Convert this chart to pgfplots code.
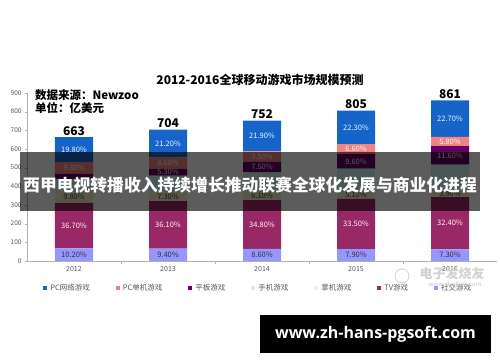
\documentclass[border=0pt]{standalone}
\usepackage{pgfplots}
\pgfplotsset{compat=1.18}
\usepackage{fontspec}
\setmainfont{Noto Sans CJK SC}
\newfontfamily\urlfont{Open Sans}
\definecolor{pcnet}{RGB}{22,100,200}
\definecolor{pcsingle}{RGB}{242,130,130}
\definecolor{tablet}{RGB}{100,0,100}
\definecolor{phone}{RGB}{205,240,240}
\definecolor{handheld}{RGB}{245,240,200}
\definecolor{tvgame}{RGB}{153,40,102}
\definecolor{social}{RGB}{150,150,255}
\definecolor{txtgray}{RGB}{89,89,89}
\pgfplotsset{
  frame/.style={at={(27pt,101pt)}, anchor=south west,
    scale only axis, width=470pt, height=168pt,
    ymin=0, ymax=900, xmin=-0.5, xmax=4.5},
  lbl/.style={only marks, mark=none, nodes near coords, point meta=explicit symbolic,
    every node near coord/.append style={anchor=center, inner sep=0pt, text=#1, font=\fontsize{7.5}{8}\selectfont}},
}
\begin{document}
\begin{tikzpicture}[x=1pt,y=1pt]
\useasboundingbox (0,0) rectangle (500,362);
\begin{axis}[
  frame,
  ybar stacked, bar width=38pt,
  axis x line*=bottom, axis y line*=left,
  axis line style={gray!60},
  tick style={gray!60},
  xtick={0,1,2,3,4}, xticklabels={2012,2013,2014,2015,2016},
  major x tick style={draw=none},
  minor xtick={0.5,1.5,2.5,3.5},
  tick align=outside,
  minor tick length=3pt, major tick length=2pt,
  ytick={0,100,...,900},
  /pgf/number format/assume math mode=true,
  tick label style={font=\fontsize{6.5}{7}\selectfont, text=txtgray},
  xticklabel style={font=\fontsize{7}{8}\selectfont, text=txtgray},
  legend image code/.code={\fill[#1] (0pt,-1.8pt) rectangle (4pt,2.2pt);},
  reverse legend, legend columns=7,
  legend style={at={(0.492,-0.161)}, anchor=center, draw=none, fill=none,
    font=\fontsize{7.5}{8}\selectfont, text=txtgray,
    /tikz/every even column/.append style={column sep=24pt},
    /tikz/every odd column/.append style={column sep=1pt}},
  legend cell align=left,
]
\addplot[fill=social, draw=none] coordinates {(0,67.6) (1,66.2) (2,64.7) (3,63.6) (4,62.9)};
\addlegendentry{社交游戏}
\addplot[fill=tvgame, draw=none] coordinates {(0,243.3) (1,254.1) (2,261.7) (3,269.7) (4,279.0)};
\addlegendentry{TV游戏}
\addplot[fill=handheld, draw=none] coordinates {(0,65.0) (1,51.4) (2,45.9) (3,41.1) (4,33.6)};
\addlegendentry{掌机游戏}
\addplot[fill=phone, draw=none] coordinates {(0,64.3) (1,85.2) (2,102.3) (3,120.8) (4,140.3)};
\addlegendentry{手机游戏}
\addplot[fill=tablet, draw=none] coordinates {(0,26.5) (1,37.3) (2,56.4) (3,77.3) (4,99.9)};
\addlegendentry{平板游戏}
\addplot[fill=pcsingle, draw=none] coordinates {(0,65.0) (1,60.5) (2,56.4) (3,53.1) (4,49.9)};
\addlegendentry{PC单机游戏}
\addplot[fill=pcnet, draw=none] coordinates {(0,131.3) (1,149.2) (2,164.7) (3,179.5) (4,195.4)};
\addlegendentry{PC网络游戏}
\end{axis}
% segment labels at the middle of each segment, totals above bars
\begin{axis}[frame, hide axis]
\addplot[lbl=black!80] coordinates {(0,33.8)[10.20\%] (1,33.1)[9.40\%] (2,32.35)[8.60\%] (3,31.8)[7.90\%] (4,31.45)[7.30\%]};
\addplot[lbl=white!88!pink] coordinates {(0,189.25)[36.70\%] (1,193.25)[36.10\%] (2,195.55)[34.80\%] (3,198.45)[33.50\%] (4,202.4)[32.40\%]};
\addplot[lbl=black!75] coordinates {(0,343.4)[9.80\%] (1,346.0)[7.30\%] (2,349.35)[6.10\%] (3,353.85)[5.10\%] (4,358.7)[3.90\%]};
\addplot[lbl=white!88!pink] coordinates {(1,475.55)[5.30\%] (2,502.8)[7.50\%] (3,533.85)[9.60\%] (4,565.75)[11.60\%]};
\addplot[lbl=white!92!pink] coordinates {(0,499.2)[9.80\%] (1,524.45)[8.60\%] (2,559.2)[7.50\%] (3,599.05)[6.60\%] (4,640.65)[5.80\%]};
\addplot[lbl=white!90!cyan] coordinates {(0,597.35)[19.80\%] (1,629.3)[21.20\%] (2,669.75)[21.90\%] (3,715.35)[22.30\%] (4,763.3)[22.70\%]};
\addplot[only marks, mark=none, nodes near coords, point meta=explicit symbolic,
  every node near coord/.append style={anchor=south, inner sep=1.5pt, text=black, font=\bfseries\fontsize{12}{12}\selectfont}]
  coordinates {(0,663)[663] (1,704)[704] (2,752)[752] (3,805)[805] (4,861)[861]};
\end{axis}
% titles
\node[font=\bfseries\fontsize{12}{12}\selectfont] at (260,282) {2012-2016全球移动游戏市场规模预测};
\node[anchor=west, font=\bfseries\fontsize{11.5}{12}\selectfont, inner sep=0pt] at (35,267) {数据来源：Newzoo};
\node[anchor=west, font=\bfseries\fontsize{11.5}{12}\selectfont, inner sep=0pt] at (35,254) {单位：亿美元};
% watermark
\node[text=gray!35, font=\bfseries\itshape\fontsize{13}{13}\selectfont] at (452,88) {电子发烧友};
\node[text=gray!45, font=\fontsize{6}{6}\selectfont] at (455,78) {www.elecfans.com};
\draw[gray!35, line width=0.8pt] (402,86) circle (7);
% banner overlay
\fill[black, opacity=0.64] (20,151) rectangle (480,210);
\node[text=white, font=\bfseries\fontsize{16.8}{17}\selectfont] at (250,177) {西甲电视转播收入持续增长推动联赛全球化发展与商业化进程};
% url box
\fill[black] (260,9) rectangle (491,47);
\node[text=white, font=\urlfont\bfseries\fontsize{16}{16}\selectfont] at (375.5,28) {www.zh-hans-pgsoft.com};
\end{tikzpicture}
\end{document}
